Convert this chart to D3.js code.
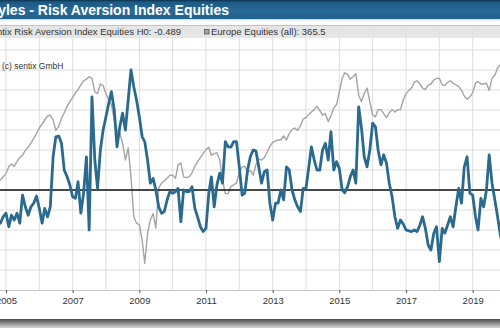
<!DOCTYPE html>
<html><head><meta charset="utf-8">
<script src="https://cdn.jsdelivr.net/npm/d3@7"></script>
<style>body{margin:0;background:#fff}svg{display:block;font-family:Arial,"Liberation Sans",sans-serif}</style>
</head><body><svg id="c" width="500" height="330"></svg>
<script>
const startMonth = "2004-10";
const riskAversion = [-0.75,-0.83,-0.67,
-0.58,-0.92,-0.63,-0.75,-0.58,-0.83,-0.13,-0.42,-0.63,-0.42,-0.33,-0.15,
-0.46,-0.83,-0.46,-0.67,-0.42,0.83,1.33,1.35,1.17,0.50,0.33,0.13,
-0.17,-0.21,0.21,-0.58,-0.08,0.83,-1.00,2.33,0.75,0.04,1.00,1.50,
1.83,2.17,2.46,2.00,1.08,1.58,1.92,1.50,2.25,3.00,2.58,2.25,
1.83,1.33,1.21,0.75,0.17,0.29,0.00,-0.42,-0.58,-0.54,-0.25,-0.04,
-0.08,-0.04,0.04,-0.79,0.00,-0.04,-0.04,0.08,-0.46,-0.67,-0.92,-1.04,
-0.96,-0.08,0.33,-0.42,0.13,0.42,0.17,1.21,1.08,1.07,1.21,1.21,
0.58,-0.13,-0.08,0.50,0.83,1.00,0.98,0.58,0.17,0.46,0.50,-0.33,
-0.75,-0.33,-0.33,0.00,-0.25,0.58,0.50,0.00,-0.25,-0.42,-0.54,0.04,
0.04,0.58,1.08,0.75,0.50,0.50,1.00,1.17,0.75,1.46,0.50,0.71,
0.54,0.00,-0.07,0.08,0.33,0.50,0.17,2.08,1.54,0.83,0.58,1.00,
1.67,1.58,1.00,0.63,0.88,0.67,0.17,-0.17,-0.67,-0.96,-0.75,-0.85,
-1.00,-1.02,-1.04,-1.00,-1.04,-0.88,-0.67,-0.96,-1.38,-1.50,-1.08,-0.92,
-1.79,-0.96,-1.08,-0.88,-0.67,-0.92,-0.42,0.04,-0.33,0.58,0.83,-0.08,
-0.13,-0.67,-1.00,-0.21,-0.42,0.00,0.88,0.17,-0.25,-0.67,-1.13,-1.42];
const europeEquities = [216,218,222,
226,235,238,235,241,246,249,255,259,264,270,276,
283,288,293,298,299,293,280,285,295,302,310,316,
321,327,331,337,342,344,347,345,328,326,338,336,
326,318,312,293,280,277,264,243,258,222,172,164,
162,143,114,151,168,176,158,208,214,217,220,224,
224,220,237,239,222,221,222,227,235,241,246,251,
256,259,249,251,252,243,218,201,201,210,212,214,
228,234,235,228,230,224,237,244,243,246,253,260,
265,267,268,268,273,268,276,281,283,280,286,294,
296,300,303,306,310,305,299,301,291,298,308,312,
328,345,352,350,344,347,351,324,316,326,333,316,
299,297,306,306,301,296,302,306,303,306,306,318,
326,330,333,340,342,338,333,331,337,338,343,345,
345,337,336,340,342,339,337,335,330,323,319,322,
327,339,341,338,338,339,330,345,349,358,362,365.5];
const yearLabels = [2005,2007,2009,2011,2013,2015,2017,2019];
const gridYears = [2005,2006,2007,2008,2009,2010,2011,2012,2013,2014,2015,2016,2017,2018,2019];
const riskGrid = [-2,-1.5,-1,-0.5,0,0.5,1,1.5,2,2.5,3,3.5,4];
const titleText = "Styles - Risk Aversion Index Equities";
const legendRisk = "sentix Risk Aversion Index Equities H0: -0.489";
const legendEurope = "Europe Equities (all): 365.5";
const copyright = "(c) sentix GmbH";

const svg = d3.select("#c");
const utc = y => new Date(Date.UTC(y, 0, 1));
const x = d3.scaleUtc().domain([utc(2005), utc(2019)]).range([6, 472.67]);
const yRisk = d3.scaleLinear().domain([-2.5, 4]).range([290, 30]);
const yEq = d3.scaleLinear().domain([100, 400]).range([274.4, 34.4]);
const [sy, sm] = startMonth.split("-").map(Number);
const dates = riskAversion.map((_, i) => new Date(Date.UTC(sy, sm - 1 + i, 1)));

const defs = svg.append("defs");
const tg = defs.append("linearGradient").attr("id","tg").attr("x1",0).attr("y1",0).attr("x2",0).attr("y2",1);
tg.append("stop").attr("offset","0").attr("stop-color","#0e3350");
tg.append("stop").attr("offset","0.12").attr("stop-color","#1d5a84");
tg.append("stop").attr("offset","0.55").attr("stop-color","#28699a");
tg.append("stop").attr("offset","1").attr("stop-color","#22618c");
const sg = defs.append("linearGradient").attr("id","sg").attr("x1",0).attr("y1",0).attr("x2",0).attr("y2",1);
sg.append("stop").attr("offset","0").attr("stop-color","#4a4a4a");
sg.append("stop").attr("offset","1").attr("stop-color","#d8d8d8");
defs.append("clipPath").attr("id","pc").append("rect").attr("x",0).attr("y",38).attr("width",500).attr("height",252);

svg.append("rect").attr("width",500).attr("height",330).attr("fill","#fff");

// grid
svg.append("g").selectAll("line").data(gridYears).join("line")
  .attr("x1", d => x(utc(d))).attr("x2", d => x(utc(d)))
  .attr("y1", 25).attr("y2", 290).attr("stroke","#dedede").attr("stroke-width",1);
svg.append("g").selectAll("line").data(riskGrid).join("line")
  .attr("x1", 0).attr("x2", 500)
  .attr("y1", d => yRisk(d)).attr("y2", d => yRisk(d)).attr("stroke","#dedede").attr("stroke-width",1);

// legend band
svg.append("rect").attr("x",0).attr("y",25.5).attr("width",500).attr("height",12.5).attr("fill","#e2e2e2").attr("opacity",0.85);
svg.append("line").attr("x1",0).attr("x2",500).attr("y1",25.5).attr("y2",25.5).attr("stroke","#c4c4c4");

const plot = svg.append("g").attr("clip-path","url(#pc)");
plot.append("path").datum(europeEquities)
  .attr("d", d3.line().x((d,i) => x(dates[i])).y(d => yEq(d)))
  .attr("fill","none").attr("stroke","#a4a4a4").attr("stroke-width",1.4).attr("stroke-linejoin","round");
plot.append("line").attr("x1",0).attr("x2",500).attr("y1",yRisk(0)).attr("y2",yRisk(0))
  .attr("stroke","#111").attr("stroke-width",1.6);
plot.append("path").datum(riskAversion)
  .attr("d", d3.line().x((d,i) => x(dates[i])).y(d => yRisk(d)))
  .attr("fill","none").attr("stroke","#2a6a8e").attr("stroke-width",2.8).attr("stroke-linejoin","round");

// x axis
svg.append("line").attr("x1",0).attr("x2",500).attr("y1",290.5).attr("y2",290.5).attr("stroke","#c8c8c8");
const ax = svg.append("g").attr("transform","translate(0,290)")
  .call(d3.axisBottom(x).tickValues(yearLabels.map(utc)).tickSize(3).tickPadding(4).tickFormat(d3.utcFormat("%Y")));
ax.select(".domain").remove();
ax.selectAll(".tick line").attr("stroke","#555");
ax.selectAll(".tick text").attr("fill","#333").style("font-size","9.5px").style("font-family","Arial, 'Liberation Sans', sans-serif");

// title bar
svg.append("rect").attr("x",0).attr("y",0).attr("width",500).attr("height",19).attr("fill","url(#tg)");
svg.append("rect").attr("x",0).attr("y",19).attr("width",500).attr("height",1.5).attr("fill","#cde7f2");
svg.append("text").attr("x",229).attr("y",15).attr("text-anchor","end")
  .attr("fill","#fff").style("font-weight","bold").style("font-size","14px").text(titleText);

// legend
svg.append("text").attr("x",181).attr("y",35).attr("text-anchor","end")
  .attr("fill","#333").style("font-size","9.5px").text(legendRisk);
svg.append("rect").attr("x",204.5).attr("y",29.5).attr("width",4.5).attr("height",4.5)
  .attr("fill","#a4a4a4").attr("stroke","#555").attr("stroke-width",0.8);
svg.append("text").attr("x",211).attr("y",35)
  .attr("fill","#333").style("font-size","9.5px").text(legendEurope);
svg.append("text").attr("x",2).attr("y",69)
  .attr("fill","#333").style("font-size","8.5px").text(copyright);

// bottom shadow
svg.append("rect").attr("x",0).attr("y",319).attr("width",500).attr("height",9).attr("fill","url(#sg)");
</script></body></html>
